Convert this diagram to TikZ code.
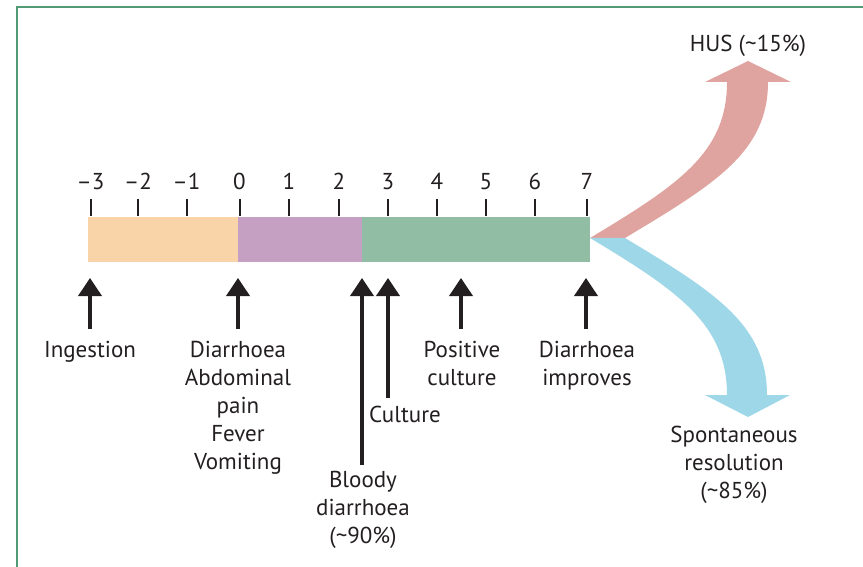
\documentclass[tikz,border=0pt]{standalone}
\usepackage{fontspec}
\setmainfont{PT Sans}
\usetikzlibrary{arrows.meta}
\definecolor{framecol}{RGB}{84,153,118}
\definecolor{txt}{RGB}{35,31,32}
\definecolor{cOrange}{RGB}{248,212,168}
\definecolor{cPurple}{RGB}{197,160,194}
\definecolor{cGreen}{RGB}{146,189,165}
\definecolor{cRed}{RGB}{224,164,160}
\definecolor{cBlue}{RGB}{157,215,232}
\tikzset{
  lbl/.style={text=txt, inner sep=0pt, align=center, anchor=base, font=\fontsize{23}{28}\selectfont},
  num/.style={text=txt, inner sep=0pt, anchor=base, font=\fontsize{23}{26}\selectfont},
  tickline/.style={draw=txt, line width=2pt},
  uparrow/.style={draw=txt, line width=3.8pt, -{Triangle[width=23pt,length=18pt]}},
}
\begin{document}
\begin{tikzpicture}[x=1pt,y=-1pt]
\useasboundingbox (0,0) rectangle (863,567);
% frame
\draw[framecol, line width=1.7pt] (16,7) -- (863,7);
\draw[framecol, line width=1.7pt] (17,6.2) -- (17,567);
% bar
\fill[cOrange] (88,217) rectangle (237.5,261.5);
\fill[cPurple] (237.5,217) rectangle (362,261.5);
\fill[cGreen] (362,217) rectangle (589.5,261.5);
% ticks and numbers
\foreach \x/\n [count=\i] in {90.5/{–3},138/{–2},186.5/{–1},239.5/0,289/1,339/2,388/3,437/4,486/5,535/6,587/7}{
  \draw[tickline] (\x,199) -- (\x,216.5);
  \node[num] (n\i) at (\x,190) {\n};
}
% curved arrows
\fill[cRed] (590,238) -- (625,238) .. controls (715,184) and (768,152) .. (768,82)
  -- (791,82) -- (748,61) -- (705,82) -- (727,82)
  .. controls (727,152) and (680,184) .. (590,238) -- cycle;
\fill[cBlue] (590,238) -- (625,238) .. controls (715,292) and (767,325) .. (767,395)
  -- (790,395) -- (748,417) -- (705,395) -- (727,395)
  .. controls (727,325) and (680,292) .. (590,238) -- cycle;
% labels (anchor = baseline of the last line)
\node[lbl] (hus) at (748,52) {HUS (\textasciitilde15\%)};
\node[lbl] (spont) at (734,498) {Spontaneous\\resolution\\(\textasciitilde85\%)};
\node[lbl] (ing) at (90,357) {Ingestion};
\node[lbl] (sym) at (238,469) {Diarrhoea\\Abdominal\\pain\\Fever\\Vomiting};
\node[lbl] (pos) at (462,385) {Positive\\culture};
\node[lbl] (imp) at (587,385) {Diarrhoea\\improves};
\node[lbl] (cul) at (405,422) {Culture};
\node[lbl] (bld) at (363,543) {Bloody\\diarrhoea\\(\textasciitilde90\%)};
% black arrows
\coordinate (aIngB) at (90,329);   \coordinate (aIngT) at (90,278);
\coordinate (aSymB) at (238,329);  \coordinate (aSymT) at (238,278);
\coordinate (aBldB) at (362,465);  \coordinate (aBldT) at (362,278);
\coordinate (aCulB) at (388,398);  \coordinate (aCulT) at (388,278);
\coordinate (aPosB) at (461,329);  \coordinate (aPosT) at (461,278);
\coordinate (aImpB) at (586,329);  \coordinate (aImpT) at (586,278);
\foreach \a in {Ing,Sym,Bld,Cul,Pos,Imp}{
  \draw[uparrow] (a\a B) -- (a\a T);
}
\end{tikzpicture}
\end{document}
